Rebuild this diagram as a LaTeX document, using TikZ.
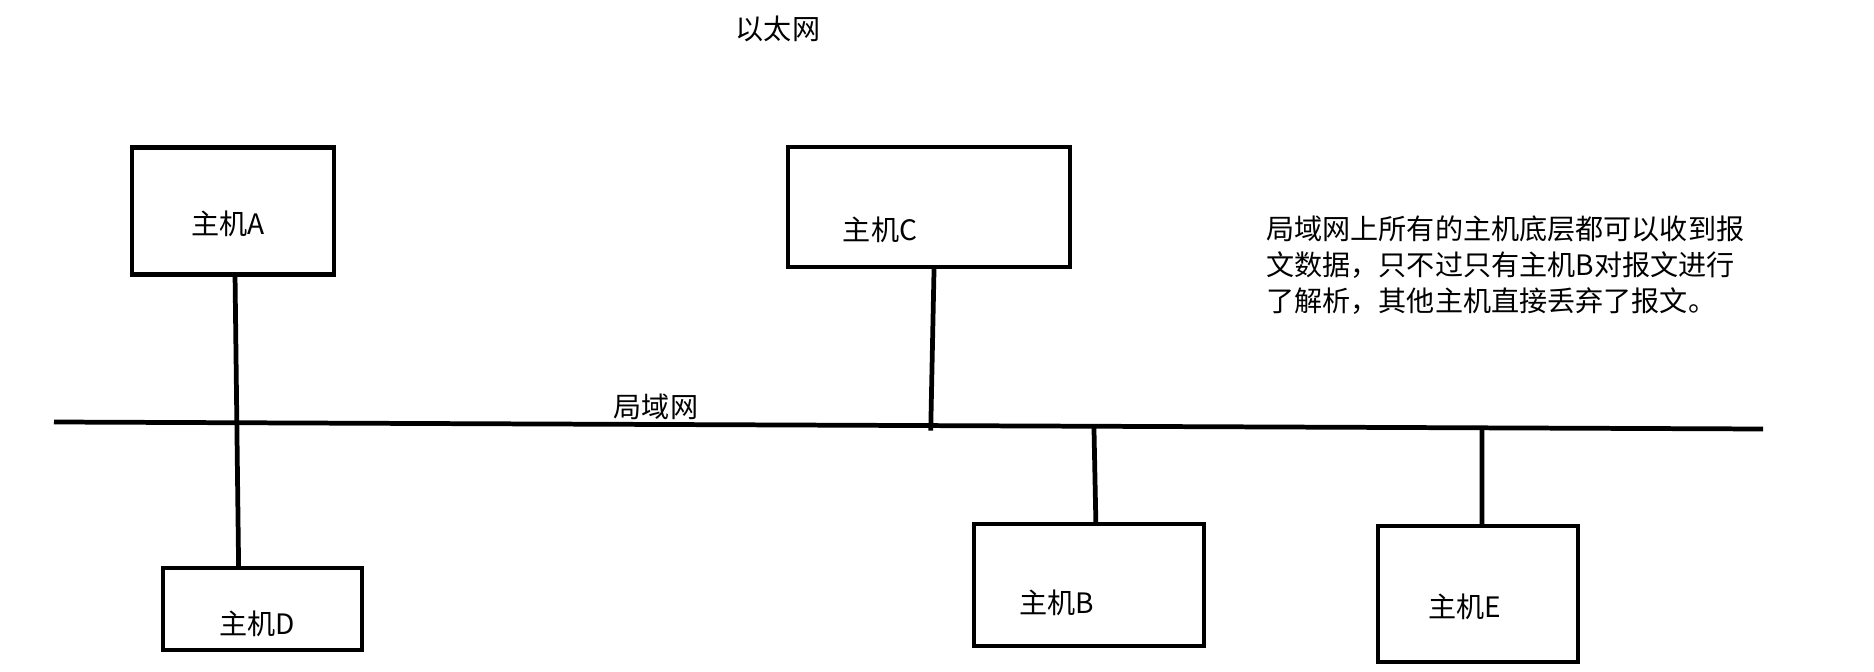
\documentclass[tikz,border=0pt]{standalone}
\usepackage{fontspec}
\newfontfamily\cjk{Noto Sans CJK SC}
\usetikzlibrary{calc}

\begin{document}
\begin{tikzpicture}[x=0.02cm, y=-0.02cm, line width=2.7pt,
	host/.style={draw, inner sep=0pt, outer sep=0pt},
	txt/.style={font=\cjk\fontsize{16}{20.5}\selectfont, inner sep=0pt}]
	\useasboundingbox (0, 0) rectangle (1874, 672);

	\node[txt] (title) at (778, 29) {以太网};

	\node[host, minimum width=4.04cm, minimum height=2.54cm] (hA) at (233, 211) {};
	\node[host, minimum width=5.64cm, minimum height=2.4cm] (hC) at (929, 207) {};
	\node[host, minimum width=3.98cm, minimum height=1.64cm] (hD) at (262.5, 609) {};
	\node[host, minimum width=4.6cm, minimum height=2.44cm] (hB) at (1089, 585) {};
	\node[host, minimum width=4.0cm, minimum height=2.72cm] (hE) at (1478, 594) {};

	\node[txt] (lA) at (228, 224) {主机A};
	\node[txt] (lC) at (880, 230) {主机C};
	\node[txt] (lD) at (257, 624) {主机D};
	\node[txt] (lB) at (1057, 603) {主机B};
	\node[txt] (lE) at (1465, 607) {主机E};

	\coordinate (busL) at (54, 422);
	\coordinate (busR) at (1763, 429);
	\draw (busL) -- (busR);
	\node[txt] (lan) at (656, 407) {局域网};

	\draw ($(hA.south west)!.51!(hA.south east)$) -- ($(hD.north west)!.38!(hD.north east)$);
	\draw ($(hC.south west)!.518!(hC.south east)$) -- ($(busL)!.513!(busR)+(0, 5)$);
	\draw ($(busL)!.6085!(busR)$) -- ($(hB.north west)!.53!(hB.north east)$);
	\draw ($(busL)!.8356!(busR)$) -- ($(hE.north west)!.52!(hE.north east)$);

	\node[txt, align=left, anchor=west] (note) at (1264, 265) {局域网上所有的主机底层都可以收到报\\文数据，只不过只有主机B对报文进行\\了解析，其他主机直接丢弃了报文。};
\end{tikzpicture}
\end{document}
